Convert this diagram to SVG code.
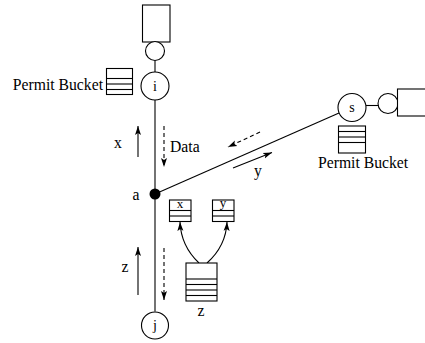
<svg xmlns="http://www.w3.org/2000/svg" width="425" height="343" viewBox="0 0 425 343">
<style>
.s{fill:none;stroke:#000;stroke-width:1.1}
.w{fill:#fff;stroke:#000;stroke-width:1.1}
.d{fill:none;stroke:#000;stroke-width:1.1;stroke-dasharray:4,3}
.t{font-family:"Liberation Serif","Times New Roman",serif;font-size:15.7px;fill:#000}
.c{font-family:"Liberation Serif","Times New Roman",serif;font-size:14px;fill:#000;text-anchor:middle}
.b{font-family:"Liberation Serif","Times New Roman",serif;font-size:13px;fill:#000;text-anchor:middle}
</style>
<defs>
<marker id="ah" markerWidth="10" markerHeight="8" refX="9" refY="4" orient="auto" markerUnits="userSpaceOnUse">
<path d="M0,1 L9,4 L0,7 L2,4 z" fill="#000"/>
</marker>
</defs>
<g id="connectors">
<line class="s" x1="155" y1="60.5" x2="155" y2="72"/>
<line class="s" x1="155" y1="100" x2="155" y2="311.5"/>
<line class="s" x1="155" y1="194" x2="339" y2="113"/>
<line class="s" x1="366" y1="105.5" x2="378" y2="105.5"/>
<line class="s" x1="138" y1="157" x2="138" y2="126" marker-end="url(#ah)"/>
<line class="d" x1="164" y1="126" x2="164" y2="167" marker-end="url(#ah)"/>
<line class="d" x1="260" y1="132" x2="228" y2="147" marker-end="url(#ah)"/>
<line class="s" x1="233" y1="168" x2="272" y2="152.5" marker-end="url(#ah)"/>
<line class="s" x1="138" y1="295" x2="138" y2="247" marker-end="url(#ah)"/>
<line class="d" x1="164" y1="248" x2="164" y2="300" marker-end="url(#ah)"/>
<path class="s" d="M199,263 Q181,246 180,222" marker-end="url(#ah)"/>
<path class="s" d="M207,263 Q226,246 227,222" marker-end="url(#ah)"/>
</g>
<g id="source-top">
<rect class="w" x="142.5" y="5" width="27.5" height="37"/>
<circle class="w" cx="155" cy="51" r="9.5"/>
</g>
<g id="node-i">
<circle class="w" cx="155" cy="86" r="14"/>
<text class="c" x="155" y="91">i</text>
</g>
<g id="bucket-i">
<rect class="w" x="106.5" y="68.5" width="26" height="26"/>
<line class="s" x1="106.5" y1="78.5" x2="132.5" y2="78.5"/>
<line class="s" x1="106.5" y1="84" x2="132.5" y2="84"/>
<line class="s" x1="106.5" y1="89.5" x2="132.5" y2="89.5"/>
<text class="t" x="103" y="90" text-anchor="end">Permit Bucket</text>
</g>
<g id="node-s">
<circle class="w" cx="352" cy="107.5" r="14"/>
<text class="c" x="352" y="112">s</text>
</g>
<g id="source-right">
<circle class="w" cx="388" cy="103.5" r="10"/>
<rect class="w" x="397.5" y="89" width="40" height="27"/>
</g>
<g id="bucket-s">
<rect class="w" x="338.5" y="126" width="27" height="27"/>
<line class="s" x1="338.5" y1="131.5" x2="365.5" y2="131.5"/>
<line class="s" x1="338.5" y1="137" x2="365.5" y2="137"/>
<line class="s" x1="338.5" y1="142.5" x2="365.5" y2="142.5"/>
<text class="t" x="318" y="168">Permit Bucket</text>
</g>
<g id="node-a">
<circle cx="155" cy="194" r="5.5" fill="#000"/>
<text class="t" x="136" y="200" text-anchor="middle">a</text>
</g>
<g id="labels">
<text class="t" x="118" y="148" text-anchor="middle">x</text>
<text class="t" x="170" y="152">Data</text>
<text class="t" x="258" y="176" text-anchor="middle">y</text>
<text class="t" x="125" y="272" text-anchor="middle">z</text>
</g>
<g id="bucket-x">
<rect class="w" x="169.5" y="200" width="21.5" height="21.5"/>
<line class="s" x1="169.5" y1="210.5" x2="191" y2="210.5"/>
<line class="s" x1="169.5" y1="216" x2="191" y2="216"/>
<text class="b" x="180" y="208">x</text>
</g>
<g id="bucket-y">
<rect class="w" x="212.5" y="200" width="21.5" height="21.5"/>
<line class="s" x1="212.5" y1="210.5" x2="234" y2="210.5"/>
<line class="s" x1="212.5" y1="216" x2="234" y2="216"/>
<text class="b" x="223" y="207">y</text>
</g>
<g id="bucket-z">
<rect class="w" x="186" y="263" width="31" height="38"/>
<line class="s" x1="186" y1="279" x2="217" y2="279"/>
<line class="s" x1="186" y1="284.5" x2="217" y2="284.5"/>
<line class="s" x1="186" y1="290" x2="217" y2="290"/>
<line class="s" x1="186" y1="295.5" x2="217" y2="295.5"/>
<text class="t" x="201" y="316" text-anchor="middle">z</text>
</g>
<g id="node-j">
<circle class="w" cx="155" cy="325.5" r="13.5"/>
<text class="c" x="155" y="330">j</text>
</g>
</svg>
